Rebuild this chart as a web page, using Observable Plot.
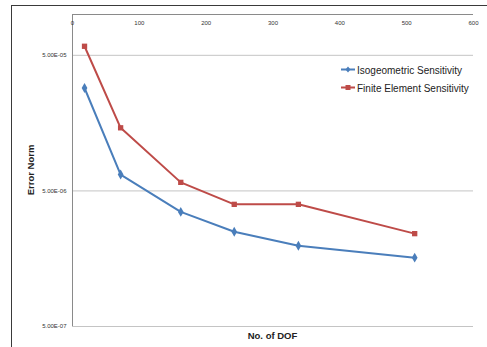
<!DOCTYPE html>
<html><head><meta charset="utf-8">
<script src="https://cdn.jsdelivr.net/npm/d3@7"></script>
<script src="https://cdn.jsdelivr.net/npm/@observablehq/plot@0.6"></script>
<style>
html,body{margin:0;padding:0;background:#fff;overflow:hidden}
#wrap{position:relative;width:487px;height:347px;font-family:"Liberation Sans",Arial,sans-serif;color:#222}
#frame{position:absolute;left:11px;top:5px;width:600px;height:400px;border:1.5px solid #3a3a3a;box-sizing:border-box}
#chart{position:absolute;left:0;top:0}
#ylab{position:absolute;left:30px;top:170px;transform:translate(-50%,-50%) rotate(-90deg);font-weight:bold;font-size:9.5px;white-space:nowrap}
#xlab{position:absolute;left:272.5px;top:335px;transform:translate(-50%,-50%);font-weight:bold;font-size:9.5px;white-space:nowrap}
.leg{position:absolute;left:341px;font-size:10px;white-space:nowrap;display:flex;align-items:center;transform:translateY(-50%)}
.leg svg{margin-right:2px}
</style></head>
<body>
<div id="wrap">
  <div id="frame"></div>
  <div id="chart"></div>
  <div id="ylab">Error Norm</div>
  <div id="xlab">No. of DOF</div>
  <div id="legend"></div>
</div>
<script>
const dof = [18, 72, 162, 242, 338, 512];
const isoError = [2.87e-5, 6.6e-6, 3.5e-6, 2.5e-6, 1.97e-6, 1.61e-6];
const feError = [5.83e-5, 1.46e-5, 5.78e-6, 3.98e-6, 3.98e-6, 2.42e-6];
const seriesNames = ["Isogeometric Sensitivity", "Finite Element Sensitivity"];
const seriesColors = ["#4A7EBB", "#BE4B48"];
const seriesSymbols = ["diamond", "square"];
const xTicks = [0, 100, 200, 300, 400, 500, 600];
const yTicks = [5e-7, 5e-6, 5e-5];

const data = [
  ...dof.map((d, i) => ({dof: d, err: isoError[i], series: seriesNames[0]})),
  ...dof.map((d, i) => ({dof: d, err: feError[i], series: seriesNames[1]}))
];

const fmt = d => {
  const [m, e] = d.toExponential(2).split("e");
  const ex = parseInt(e);
  return m.toUpperCase() + "E" + (ex < 0 ? "-" : "+") + String(Math.abs(ex)).padStart(2, "0");
};

const chart = Plot.plot({
  width: 487, height: 347,
  marginLeft: 72, marginRight: 14, marginTop: 14, marginBottom: 21,
  x: {domain: [0, 600]},
  y: {type: "log", domain: [5e-7, 1e-4], axis: null},
  color: {domain: seriesNames, range: seriesColors},
  symbol: {domain: seriesNames, range: seriesSymbols},
  style: {fontFamily: "'Liberation Sans', Arial, sans-serif", background: "transparent", color: "#333"},
  marks: [
    Plot.ruleY(yTicks, {stroke: "#c4c4c4", strokeWidth: 1}),
    Plot.ruleY([1e-4], {stroke: "#8a8a8a", strokeWidth: 1}),
    Plot.ruleX([0], {stroke: "#8a8a8a", strokeWidth: 1}),
    Plot.text(yTicks, {y: d => d, text: fmt, frameAnchor: "left", textAnchor: "end", dx: -6, fontSize: 6, fill: "#333"}),
    Plot.axisX({anchor: "top", ticks: xTicks, tickSize: 0, tickPadding: -9, lineAnchor: "middle", fontSize: 6, label: null}),
    Plot.line(data, {x: "dof", y: "err", z: "series", stroke: "series", strokeWidth: 2}),
    Plot.dot(data, {x: "dof", y: "err", symbol: "series", fill: "series", r: 3})
  ]
});
document.getElementById("chart").appendChild(chart);

const legend = document.getElementById("legend");
const legY = [69.5, 87.5];
seriesNames.forEach((name, i) => {
  const div = document.createElement("div");
  div.className = "leg";
  div.style.top = legY[i] + "px";
  const c = seriesColors[i];
  const marker = seriesSymbols[i] === "square"
    ? `<rect x="4.5" y="1.5" width="5" height="5" fill="${c}"/>`
    : `<path d="M7,1 L9.5,4 L7,7 L4.5,4Z" fill="${c}"/>`;
  div.innerHTML = `<svg width="14" height="8"><line x1="0" x2="14" y1="4" y2="4" stroke="${c}" stroke-width="2"/>${marker}</svg><span>${name}</span>`;
  legend.appendChild(div);
});
</script>
</body></html>
